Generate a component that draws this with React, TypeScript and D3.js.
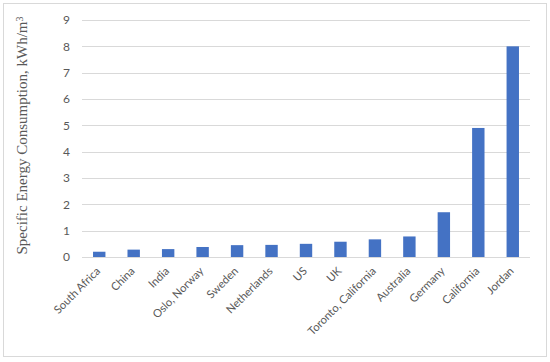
import { useEffect, useRef } from "react";
import * as d3 from "d3";

const countries = [
  "South Africa",
  "China",
  "India",
  "Oslo, Norway",
  "Sweden",
  "Netherlands",
  "US",
  "UK",
  "Toronto, California",
  "Australia",
  "Germany",
  "California",
  "Jordan",
];
const energy = [0.2, 0.28, 0.3, 0.38, 0.45, 0.46, 0.5, 0.58, 0.67, 0.78, 1.7, 4.9, 8.0];
const yTicks = [0, 1, 2, 3, 4, 5, 6, 7, 8, 9];

const App = () => {
  const svgRef = useRef<SVGSVGElement>(null);

  useEffect(() => {
    const svg = d3.select(svgRef.current);
    svg.selectAll("*").remove();

    const width = 550;
    const height = 362;
    const margin = { top: 20, right: 20, bottom: 105, left: 82 };

    // outer frame
    svg
      .append("rect")
      .attr("x", 3.5)
      .attr("y", 3.5)
      .attr("width", 543)
      .attr("height", 353)
      .attr("fill", "#fff")
      .attr("stroke", "#d9d9d9");

    const x = d3
      .scaleBand()
      .domain(countries)
      .range([margin.left, width - margin.right])
      .paddingInner(0.64)
      .paddingOuter(0.32);

    const y = d3
      .scaleLinear()
      .domain([0, 9])
      .range([height - margin.bottom, margin.top]);

    // gridlines
    svg
      .append("g")
      .selectAll("line")
      .data(yTicks)
      .enter()
      .append("line")
      .attr("x1", margin.left)
      .attr("x2", width - margin.right)
      .attr("y1", (d) => Math.round(y(d)) + 0.5)
      .attr("y2", (d) => Math.round(y(d)) + 0.5)
      .attr("stroke", "#d9d9d9");

    // y tick labels
    svg
      .append("g")
      .selectAll("text")
      .data(yTicks)
      .enter()
      .append("text")
      .attr("x", 70)
      .attr("y", (d) => y(d))
      .attr("dy", "0.35em")
      .attr("text-anchor", "end")
      .attr("font-family", "Lato, 'Open Sans', sans-serif")
      .attr("font-size", "12px")
      .attr("fill", "#595959")
      .text((d) => d);

    // bars
    svg
      .append("g")
      .selectAll("rect")
      .data(countries)
      .enter()
      .append("rect")
      .attr("x", (d) => x(d)!)
      .attr("y", (d, i) => y(energy[i]))
      .attr("width", x.bandwidth())
      .attr("height", (d, i) => y(0) - y(energy[i]))
      .attr("fill", "#4472c4");

    // x labels, rotated
    svg
      .append("g")
      .selectAll("text")
      .data(countries)
      .enter()
      .append("text")
      .attr(
        "transform",
        (d) => `translate(${x(d)! + x.bandwidth() / 2 - 1},${y(0) + 12}) rotate(-45)`
      )
      .attr("text-anchor", "end")
      .attr("dy", "0.35em")
      .attr("font-family", "Lato, 'Open Sans', sans-serif")
      .attr("font-size", "11.2px")
      .attr("fill", "#595959")
      .text((d) => d);

    // y axis title
    const title = svg
      .append("text")
      .attr("transform", `translate(27,${(y(0) + y(9)) / 2 - 3}) rotate(-90)`)
      .attr("text-anchor", "middle")
      .attr("font-family", "'Liberation Serif', serif")
      .attr("font-size", "15px")
      .attr("fill", "#595959");
    title.append("tspan").text("Specific Energy Consumption, kWh/m");
    title.append("tspan").attr("dy", "-0.45em").attr("font-size", "10px").text("3");
  }, []);

  return (
    <svg
      ref={svgRef}
      width={550}
      height={362}
      style={{ position: "absolute", left: 0, top: 0 }}
    ></svg>
  );
};

export default App;
